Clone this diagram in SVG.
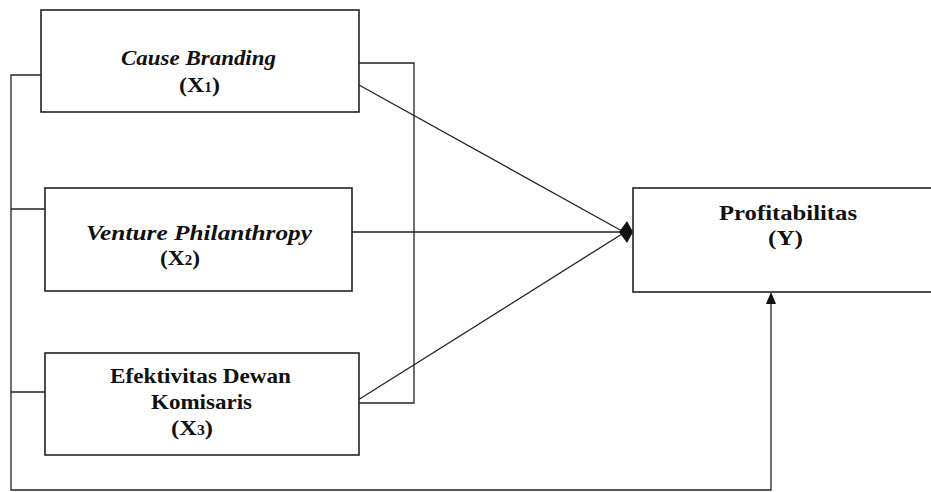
<svg xmlns="http://www.w3.org/2000/svg" width="931" height="492" viewBox="0 0 931 492">
<style>
.box{fill:#fff;stroke:#222;stroke-width:1.6}
.ln{fill:none;stroke:#222;stroke-width:1.3}
.t{font-family:"Liberation Serif","Times New Roman",serif;font-weight:bold;font-size:22px;fill:#111;text-anchor:middle}
.i{font-style:italic}
.sub{font-size:14px}
</style>
<rect width="931" height="492" fill="#fff"/>
<g id="connectors">
<polyline class="ln" points="41,75 11,75 11,490 771,490 771,303"/>
<line class="ln" x1="11" y1="209" x2="45" y2="209"/>
<line class="ln" x1="11" y1="392" x2="45" y2="392"/>
<polyline class="ln" points="359,63 414,63 414,403 356,403"/>
<line class="ln" x1="359" y1="85" x2="622" y2="231"/>
<line class="ln" x1="343" y1="232" x2="622" y2="232"/>
<line class="ln" x1="358" y1="400" x2="622" y2="234"/>
<path d="M619,232 L627,221 L633,232 L627,243 Z" fill="#111"/>
<path d="M771,292 L766,304 L776,304 Z" fill="#111"/>
</g>
<g id="x1">
<rect class="box" x="41" y="10" width="318" height="102"/>
<text class="t i" x="198.5" y="65" textLength="155" lengthAdjust="spacingAndGlyphs">Cause Branding</text>
<text class="t" x="199.5" y="92" textLength="41" lengthAdjust="spacingAndGlyphs">(X<tspan class="sub">1</tspan>)</text>
</g>
<g id="x2">
<rect class="box" x="45" y="188" width="307" height="103"/>
<text class="t i" x="199" y="240" textLength="226" lengthAdjust="spacingAndGlyphs">Venture Philanthropy</text>
<text class="t" x="180" y="265" textLength="40" lengthAdjust="spacingAndGlyphs">(X<tspan class="sub">2</tspan>)</text>
</g>
<g id="x3">
<rect class="box" x="45" y="353" width="314" height="102"/>
<text class="t" x="200.5" y="383" textLength="181" lengthAdjust="spacingAndGlyphs">Efektivitas Dewan</text>
<text class="t" x="201.5" y="409" textLength="101" lengthAdjust="spacingAndGlyphs">Komisaris</text>
<text class="t" x="192" y="435" textLength="42" lengthAdjust="spacingAndGlyphs">(X<tspan class="sub">3</tspan>)</text>
</g>
<g id="y">
<rect class="box" x="633" y="188" width="310" height="104"/>
<text class="t" x="788" y="220" textLength="138" lengthAdjust="spacingAndGlyphs">Profitabilitas</text>
<text class="t" x="785.5" y="245" textLength="35" lengthAdjust="spacingAndGlyphs">(Y)</text>
</g>
</svg>
